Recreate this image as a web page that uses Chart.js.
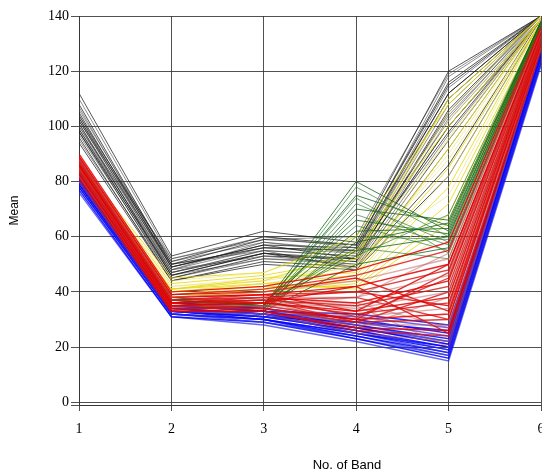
<!DOCTYPE html>
<html>
<head>
<meta charset="utf-8">
<script src="https://cdn.jsdelivr.net/npm/chart.js@4"></script>
<style>
  html, body { margin: 0; padding: 0; background: #fff; overflow: hidden; }
  #wrap { width: 560px; height: 476px; }
</style>
</head>
<body>
<div id="wrap"><canvas id="bandChart" width="560" height="476"></canvas></div>
<script>
const bands = [1, 2, 3, 4, 5, 6];
const yTicks = [0, 20, 40, 60, 80, 100, 120, 140];

// each row = mean value for bands 1..6
const blackRows = [
    [112, 53, 62, 58, 120, 140],
    [110, 52, 60, 56, 118, 140],
    [108, 50, 59, 57, 116, 140],
    [106, 51, 58, 55, 114, 140],
    [105, 49, 57, 56, 112, 140],
    [104, 48, 58, 54, 110, 140],
    [103, 50, 56, 55, 112, 140],
    [103, 47, 55, 53, 108, 140],
    [102, 49, 57, 52, 106, 140],
    [101, 48, 56, 54, 104, 139],
    [101, 46, 54, 52, 105, 140],
    [100, 47, 55, 53, 102, 139],
    [99, 46, 54, 51, 100, 139],
    [99, 48, 53, 50, 103, 140],
    [98, 45, 53, 52, 98, 139],
    [97, 46, 52, 50, 97, 139],
    [96, 44, 51, 49, 95, 139],
    [95, 45, 52, 51, 100, 138],
    [104, 51, 60, 57, 115, 140],
    [100, 50, 55, 48, 92, 139],
    [98, 47, 54, 49, 86, 139],
    [102, 52, 59, 60, 119, 140],
    [94, 44, 50, 48, 82, 138],
    [107, 49, 56, 55, 110, 140]
];

const yellowRows = [
    [86, 43, 46, 52, 110, 140],
    [85, 42, 45, 50, 105, 140],
    [85, 41, 44, 55, 100, 139],
    [84, 40, 43, 48, 96, 139],
    [84, 41, 45, 47, 92, 139],
    [83, 39, 42, 50, 88, 138],
    [83, 40, 43, 46, 85, 138],
    [82, 39, 41, 45, 82, 138],
    [82, 38, 41, 44, 78, 138],
    [84, 39, 42, 52, 75, 138],
    [81, 38, 40, 43, 72, 137],
    [86, 44, 47, 58, 102, 139],
    [83, 40, 42, 42, 68, 137],
    [85, 42, 44, 49, 90, 139],
    [84, 41, 43, 41, 65, 137],
    [82, 39, 41, 54, 95, 139],
    [87, 45, 47, 60, 108, 140],
    [82, 38, 40, 40, 62, 137]
];

const greenRows = [
    [86, 38, 35, 80, 62, 138],
    [85, 37, 34, 78, 60, 137],
    [84, 37, 35, 75, 64, 138],
    [84, 36, 34, 72, 58, 137],
    [83, 36, 33, 70, 66, 138],
    [83, 35, 34, 68, 57, 137],
    [82, 37, 36, 66, 61, 137],
    [85, 38, 36, 64, 55, 136],
    [84, 36, 35, 62, 63, 137],
    [83, 35, 33, 60, 59, 137],
    [82, 36, 34, 58, 65, 138],
    [84, 37, 35, 56, 52, 136],
    [83, 35, 34, 55, 60, 137],
    [85, 36, 36, 53, 68, 138],
    [82, 35, 33, 50, 56, 136],
    [84, 37, 35, 74, 54, 136]
];

const redRows = [
    [90, 40, 42, 48, 58, 136],
    [89, 39, 41, 46, 55, 135],
    [88, 38, 40, 44, 52, 135],
    [88, 38, 39, 42, 50, 134],
    [87, 37, 39, 40, 48, 134],
    [87, 37, 38, 38, 46, 133],
    [86, 36, 38, 36, 44, 133],
    [86, 36, 37, 35, 42, 132],
    [85, 36, 37, 34, 40, 132],
    [85, 35, 36, 33, 38, 132],
    [84, 35, 36, 32, 36, 131],
    [84, 35, 35, 31, 34, 131],
    [83, 34, 35, 30, 32, 130],
    [83, 34, 34, 29, 30, 130],
    [82, 34, 34, 28, 28, 129],
    [82, 33, 33, 27, 26, 129],
    [81, 33, 33, 26, 24, 128],
    [80, 33, 32, 25, 22, 128],
    [86, 37, 38, 40, 35, 132],
    [85, 36, 37, 38, 30, 131],
    [84, 35, 36, 36, 27, 130],
    [87, 38, 39, 33, 50, 134],
    [88, 37, 38, 31, 45, 133],
    [83, 35, 35, 38, 54, 134],
    [86, 36, 36, 42, 25, 130],
    [85, 36, 37, 29, 40, 132],
    [84, 34, 35, 35, 20, 129],
    [89, 39, 40, 45, 33, 131],
    [82, 34, 34, 30, 47, 133],
    [87, 37, 37, 27, 38, 132]
];

const blueRows = [
    [84, 36, 34, 30, 25, 128],
    [83, 35, 33, 29, 24, 128],
    [82, 35, 33, 28, 23, 127],
    [82, 34, 32, 28, 22, 127],
    [81, 34, 32, 27, 21, 126],
    [81, 34, 31, 27, 21, 126],
    [80, 33, 31, 26, 20, 126],
    [80, 33, 31, 26, 19, 125],
    [79, 33, 30, 25, 19, 125],
    [79, 32, 30, 25, 18, 124],
    [78, 32, 30, 24, 18, 124],
    [78, 32, 29, 24, 17, 124],
    [77, 31, 29, 23, 16, 123],
    [76, 31, 28, 22, 15, 122],
    [83, 35, 33, 32, 28, 127],
    [82, 34, 32, 31, 27, 127],
    [80, 33, 31, 29, 26, 126],
    [79, 32, 30, 23, 17, 124],
    [81, 34, 32, 25, 20, 125],
    [80, 33, 32, 27, 22, 126]
];

// first group is drawn on top
const groups = [
    { rows: redRows, width: 1.4, colors: ['rgba(228, 0, 0, 0.85)', 'rgba(215, 15, 15, 0.8)', 'rgba(190, 90, 90, 0.5)'] },
    { rows: blueRows, width: 1.4, colors: ['rgba(0, 0, 255, 0.85)', 'rgba(40, 40, 230, 0.7)'] },
    { rows: greenRows, width: 1, colors: ['rgba(20, 100, 20, 0.8)', 'rgba(40, 120, 40, 0.65)'] },
    { rows: yellowRows, width: 1, colors: ['rgba(230, 215, 0, 0.8)', 'rgba(235, 225, 110, 0.6)'] },
    { rows: blackRows, width: 1, colors: ['rgba(30, 30, 30, 0.75)', 'rgba(70, 70, 70, 0.6)'] }
];

const datasets = [];
groups.forEach(g => {
    g.rows.forEach((row, i) => {
        datasets.push({
            data: row.map((v, k) => ({ x: bands[k], y: v })),
            borderColor: g.colors[i % g.colors.length],
            borderWidth: g.width,
            pointRadius: 0,
            tension: 0,
            fill: false
        });
    });
});

const serif = 'Liberation Serif';
const sans = 'Liberation Sans';

const bandTitle = {
    id: 'bandTitle',
    afterDraw(chart) {
        const c = chart.ctx;
        c.save();
        c.font = '13px "' + sans + '"';
        c.fillStyle = '#000';
        c.textAlign = 'center';
        c.textBaseline = 'middle';
        c.fillText('No. of Band', chart.scales.x.getPixelForValue(3.9), 465);
        c.restore();
    }
};

const ctx = document.getElementById('bandChart').getContext('2d');
new Chart(ctx, {
    type: 'line',
    data: { datasets: datasets },
    options: {
        responsive: false,
        animation: false,
        layout: { padding: { left: 0, right: 19, top: 16, bottom: 0 } },
        plugins: {
            legend: { display: false },
            tooltip: { enabled: false }
        },
        scales: {
            x: {
                type: 'linear',
                min: 1,
                max: 6,
                afterFit: s => { s.height = 71; },
                afterBuildTicks: s => { s.ticks = bands.map(v => ({ value: v })); },
                grid: { color: 'rgba(50, 50, 50, 0.85)', lineWidth: 1, tickLength: 6 },
                border: { color: 'rgba(50, 50, 50, 0.85)' },
                ticks: { color: '#000', padding: 10, font: { family: serif, size: 14 } }
            },
            y: {
                min: -1,
                max: 140,
                afterFit: s => { s.width = 79; },
                afterBuildTicks: s => { s.ticks = [{ value: -1 }].concat(yTicks.map(v => ({ value: v }))); },
                grid: { color: 'rgba(50, 50, 50, 0.85)', lineWidth: 1, tickLength: 8 },
                border: { color: 'rgba(50, 50, 50, 0.85)' },
                ticks: {
                    color: '#000',
                    padding: 2,
                    font: { family: serif, size: 14 },
                    callback: v => (v < 0 ? '' : v)
                },
                title: {
                    display: true,
                    text: 'Mean',
                    color: '#000',
                    padding: { top: 7, bottom: 0 },
                    font: { family: sans, size: 12 }
                }
            }
        }
    },
    plugins: [bandTitle]
});
</script>
</body>
</html>
